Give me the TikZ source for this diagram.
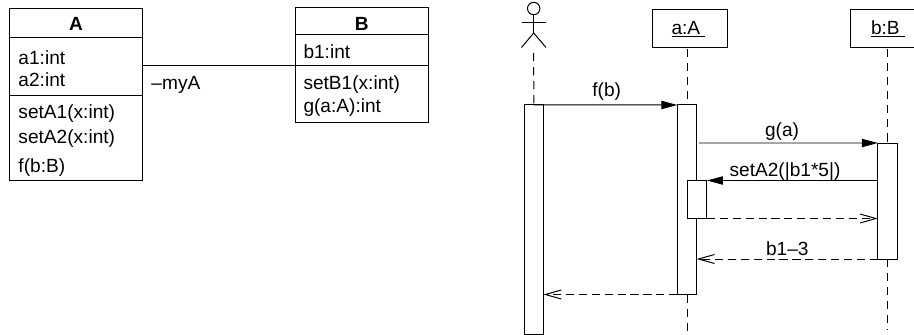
\documentclass[tikz,border=0pt]{standalone}
\usepackage{fontspec}
\setmainfont{Liberation Sans}
\usetikzlibrary{arrows.meta}
\tikzset{
    box/.style={draw, fill=white, inner sep=0, outer sep=0},
    objbox/.style={box, minimum width=2.24cm, minimum height=1.14cm},
    bar/.style={box, minimum width=0.58cm},
    txt/.style={anchor=base west, inner sep=0},
    lbl/.style={anchor=base, inner sep=0},
    life/.style={dash pattern=on 7pt off 5pt},
    call/.style={-{Triangle[length=0.48cm, width=0.25cm]}},
    back/.style={dash pattern=on 7pt off 4pt, -{Straight Barb[length=0.48cm, width=0.27cm]}}
}

\begin{document}
\begin{tikzpicture}[x=0.03cm, y=-0.03cm, line width=0.85pt, font=\fontsize{16.3}{18}\selectfont]
    \useasboundingbox (0,0) rectangle (914,335);

    % Klasse A
    \node[box, minimum width=3.99cm, minimum height=5.17cm] (classA) at (75.8,94.2) {};
    \draw (9.3,37.5) -- (142.3,37.5);
    \draw (9.3,95) -- (142.3,95);
    \node[lbl] (nameA) at (76,30) {\textbf{A}};
    \node[txt] (a1) at (18,64) {a1:int};
    \node[txt] (a2) at (18,86) {a2:int};
    \node[txt] (setA1) at (18,118) {setA1(x:int)};
    \node[txt] (setA2) at (18,143) {setA2(x:int)};
    \node[txt] (fA) at (18,172.7) {f(b:B)};

    % Klasse B
    \node[box, minimum width=3.99cm, minimum height=3.44cm] (classB) at (361.7,65.3) {};
    \draw (295,34.5) -- (428.3,34.5);
    \draw (295,65.3) -- (428.3,65.3);
    \node[lbl] (nameB) at (361.7,30) {\textbf{B}};
    \node[txt] (b1) at (303,58) {b1:int};
    \node[txt] (setB1) at (303,89) {setB1(x:int)};
    \node[txt] (gB) at (303,112) {g(a:A):int};

    % Assoziation
    \draw (classA.east |- classB.west) -- (classB.west);
    \node[txt] (myA) at (151,89) {–myA};

    % Akteur
    \coordinate (head) at (533.7,8.5);
    \coordinate (hip) at (533.7,33);
    \draw (head) circle (6.2);
    \draw (533.7,14.7) -- (hip);
    \draw (521.5,22.5) -- (546,22.5);
    \draw (521.5,47.5) -- (hip) -- (546,47.5);

    % Objekte
    \node[objbox] (objA) at (689.7,28) {};
    \node[objbox] (objB) at (888,28) {};
    \node[lbl] (labelA) at (688.5,34) {\underline{a:A\ }};
    \node[lbl] (labelB) at (888,34) {\underline{b:B\ }};

    % Aktivierungen
    \node[bar, minimum height=6.87cm] (barActor) at (533.8,219.5) {};
    \node[bar, minimum height=5.685cm] (barA) at (687,199.75) {};
    \node[bar, minimum height=3.48cm] (barB) at (887.5,201) {};
    \node[bar, minimum height=1.14cm] (barN) at (697.3,199.5) {};

    % Lebenslinien
    \coordinate (topActor) at (533.7,53);
    \coordinate (endA) at (687,335);
    \coordinate (endB) at (887.5,330);
    \draw[life] (topActor) -- (barActor.north);
    \draw[life] (barA.north |- objA.south) ++(0,2) -- (barA.north);
    \draw[life] (barB.north |- objB.south) ++(0,2) -- (barB.north);
    \draw[life] (barA.south) -- (endA);
    \draw[life] (barB.south) -- (endB);

    % Nachrichten
    \coordinate (startG) at (699,143);
    \draw[call] (barActor.north) -- (barA.north west);
    \draw[call] (startG) -- (barB.north west);
    \draw[call] (barB.west |- barN.north) -- (barN.north east);
    \draw[back] (barN.south east) -- (barB.west |- barN.south);
    \draw[back] (barB.south west) -- (barB.south west -| barA.east);
    \draw[back] (barA.south west) -- (barA.south west -| barActor.east);

    % Beschriftungen
    \node[lbl] (msgF) at (606.7,96) {f(b)};
    \node[lbl] (msgG) at (782,136) {g(a)};
    \node[lbl] (msgSet) at (785,176) {setA2(|b1*5|)};
    \node[lbl] (msgRet) at (787.3,255) {b1–3};
\end{tikzpicture}
\end{document}
